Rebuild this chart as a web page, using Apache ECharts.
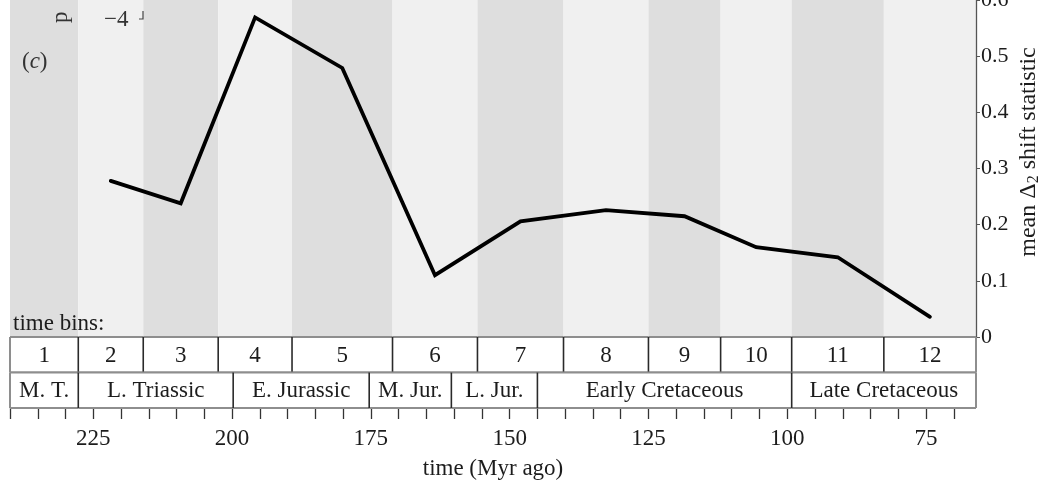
<!DOCTYPE html>
<html>
<head>
<meta charset="utf-8">
<script src="https://cdn.jsdelivr.net/npm/echarts@6/dist/echarts.min.js"></script>
<style>
  html, body { margin: 0; padding: 0; background: #ffffff; }
  #chart { width: 1053px; height: 481px; }
</style>
</head>
<body>
<div id="chart"></div>
<script>
// Time-bin edges (Myr ago), oldest first
const binEdges = [240, 227.7, 216.0, 202.5, 189.2, 171.1, 155.8, 140.3, 125.0, 112.0, 99.2, 82.6, 66];
const binLabels = ['1', '2', '3', '4', '5', '6', '7', '8', '9', '10', '11', '12'];
// Mean Δ2 shift statistic per time bin (bin 1 has no value)
const shiftValues = [null, 0.278, 0.238, 0.569, 0.479, 0.110, 0.206, 0.226, 0.215, 0.160, 0.142, 0.036];
// Geological periods
const periodEdges = [240, 227.7, 199.8, 175.3, 160.5, 145.0, 99.2, 66];
const periodLabels = ['M. T.', 'L. Triassic', 'E. Jurassic', 'M. Jur.', 'L. Jur.', 'Early Cretaceous', 'Late Cretaceous'];
// Time axis ticks and labels
const timeTicks = [240, 235, 230, 225, 220, 215, 210, 205, 200, 195, 190, 185, 180, 175, 170, 165, 160, 155, 150, 145, 140, 135, 130, 125, 120, 115, 110, 105, 100, 95, 90, 85, 80, 75, 70];
const timeLabels = [225, 200, 175, 150, 125, 100, 75];

const SERIF = '"Liberation Serif", "DejaVu Serif", serif';
const TXT = '#1c1c1c';
const FS = 23;

const stripeData = binLabels.map((lab, i) => [binEdges[i], binEdges[i + 1], i]);
const lineData = [];
shiftValues.forEach((v, i) => {
  if (v !== null) lineData.push([(binEdges[i] + binEdges[i + 1]) / 2, v]);
});
const boxData = [];
binLabels.forEach((lab, i) => boxData.push([binEdges[i], binEdges[i + 1], 1, lab, i, binLabels.length]));
periodLabels.forEach((lab, i) => boxData.push([periodEdges[i], periodEdges[i + 1], 0, lab, i, periodLabels.length]));

const chart = echarts.init(document.getElementById('chart'), null, { renderer: 'canvas' });

// Alternating background band for each time bin
function renderStripe(params, api) {
  const a = api.coord([api.value(0), 0.6]);
  const b = api.coord([api.value(1), 0]);
  const idx = api.value(2);
  return {
    type: 'rect',
    shape: { x: Math.min(a[0], b[0]), y: a[1], width: Math.abs(b[0] - a[0]), height: b[1] - a[1] },
    style: { fill: idx % 2 === 0 ? '#dedede' : '#f0f0f0' },
    silent: true
  };
}

// One labelled cell of the time-bin / period table under the plot
function renderBox(params, api) {
  const row = api.value(2);
  const a = api.coord([api.value(0), row + 1]);
  const b = api.coord([api.value(1), row]);
  const idx = api.value(4);
  const n = api.value(5);
  const label = boxData[params.dataIndex][3];
  const x0 = Math.min(a[0], b[0]), x1 = Math.max(a[0], b[0]);
  const y0 = a[1], y1 = b[1];
  const gray = '#8e8e8e', dark = '#2a2a2a';
  const children = [
    { type: 'rect', shape: { x: x0, y: y0, width: x1 - x0, height: y1 - y0 }, style: { fill: '#ffffff' } },
    { type: 'line', shape: { x1: x0, y1: y0, x2: x1, y2: y0 }, style: { stroke: gray, lineWidth: 2 } },
    { type: 'line', shape: { x1: x0, y1: y1, x2: x1, y2: y1 }, style: { stroke: gray, lineWidth: 2 } },
    { type: 'line', shape: { x1: x0, y1: y0, x2: x0, y2: y1 }, style: { stroke: idx === 0 ? gray : dark, lineWidth: idx === 0 ? 2 : 1.6 } },
    {
      type: 'text',
      x: (x0 + x1) / 2, y: (y0 + y1) / 2 + 1,
      style: { text: label, font: FS + 'px ' + SERIF, fill: TXT, align: 'center', verticalAlign: 'middle' }
    }
  ];
  if (idx === n - 1) {
    children.push({ type: 'line', shape: { x1: x1, y1: y0, x2: x1, y2: y1 }, style: { stroke: gray, lineWidth: 2 } });
  }
  return { type: 'group', children: children, silent: true };
}

const option = {
  animation: false,
  backgroundColor: '#ffffff',
  textStyle: { fontFamily: SERIF, color: TXT },
  grid: [
    { left: 10, right: 77, top: 0, bottom: 144, outerBoundsMode: 'none', containLabel: false },
    { left: 10, right: 77, top: 337, height: 71, outerBoundsMode: 'none', containLabel: false }
  ],
  xAxis: [
    { type: 'value', gridIndex: 0, min: 66, max: 240, inverse: true, show: false },
    {
      type: 'value', gridIndex: 1, min: 66, max: 240, inverse: true, position: 'bottom',
      axisLine: { show: false },
      axisTick: { show: true, customValues: timeTicks, length: 11, inside: false, lineStyle: { color: '#333', width: 1.3 } },
      axisLabel: { customValues: timeLabels, margin: 19, fontSize: FS, fontFamily: SERIF, color: TXT },
      splitLine: { show: false },
      name: 'time (Myr ago)', nameLocation: 'middle', nameGap: 49,
      nameTextStyle: { fontSize: FS, fontFamily: SERIF, color: TXT }
    }
  ],
  yAxis: [
    {
      type: 'value', gridIndex: 0, position: 'right', min: 0, max: 0.6, interval: 0.1,
      axisLine: { show: true, lineStyle: { color: '#555', width: 1.3 } },
      axisTick: { show: true, length: 4, lineStyle: { color: '#555' } },
      axisLabel: {
        margin: 5, fontSize: 22, fontFamily: SERIF, color: TXT,
        formatter: v => (v === 0 ? '0' : v.toFixed(1))
      },
      splitLine: { show: false }
    },
    { type: 'value', gridIndex: 1, min: 0, max: 2, show: false }
  ],
  series: [
    {
      type: 'custom', xAxisIndex: 0, yAxisIndex: 0, data: stripeData,
      renderItem: renderStripe, z: 0, silent: true
    },
    {
      type: 'line', xAxisIndex: 0, yAxisIndex: 0, data: lineData,
      showSymbol: false, symbol: 'none', z: 5,
      lineStyle: { color: '#000000', width: 3.8, join: 'miter', cap: 'round' }
    },
    {
      type: 'custom', xAxisIndex: 1, yAxisIndex: 1, data: boxData,
      renderItem: renderBox, z: 3, silent: true, clip: false
    }
  ],
  graphic: [
    {
      type: 'text', x: 13, y: 335, z: 100,
      style: { text: 'time bins:', font: FS + 'px ' + SERIF, fill: TXT, align: 'left', verticalAlign: 'bottom' }
    },
    {
      type: 'text', x: 22, y: 62, z: 100,
      style: {
        text: '({c|c})', font: FS + 'px ' + SERIF, fill: '#333', align: 'left', verticalAlign: 'middle',
        rich: { c: { font: 'italic ' + FS + 'px ' + SERIF, fill: '#333' } }
      }
    },
    {
      type: 'text', x: 104, y: 20, z: 100,
      style: { text: '\u22124', font: FS + 'px ' + SERIF, fill: '#333', align: 'left', verticalAlign: 'middle' }
    },
    {
      type: 'polyline', z: 100,
      shape: { points: [[143, 11], [143, 19], [139, 19]] },
      style: { stroke: '#444', lineWidth: 1.2, fill: null }
    },
    {
      type: 'text', x: 61, y: 23, rotation: Math.PI / 2, z: 100,
      style: { text: 'p', font: FS + 'px ' + SERIF, fill: '#333', align: 'left', verticalAlign: 'middle' }
    },
    {
      type: 'text', x: 1029, y: 152, rotation: Math.PI / 2, z: 100,
      style: {
        text: 'mean \u0394{s|2} shift statistic', font: '24px ' + SERIF, fill: TXT,
        align: 'center', verticalAlign: 'middle',
        rich: { s: { font: '16px ' + SERIF, fill: TXT, verticalAlign: 'bottom', padding: [10, 0, 0, 0] } }
      }
    }
  ]
};

chart.setOption(option);
</script>
</body>
</html>
